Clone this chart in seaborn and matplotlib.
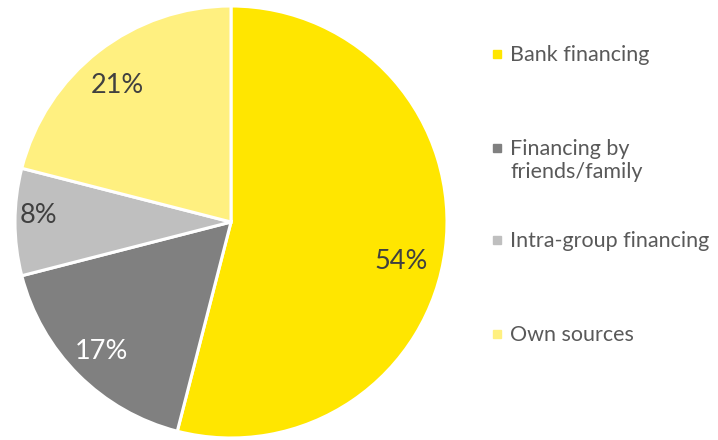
import matplotlib
matplotlib.use("Agg")
import numpy as np
import matplotlib.pyplot as plt
import seaborn as sns
from matplotlib.patches import Rectangle

# data
sources = ["Bank financing", "Financing by\nfriends/family", "Intra-group financing", "Own sources"]
shares = [54, 17, 8, 21]
colors = ["#FFE600", "#808080", "#BFBFBF", "#FFF080"]
pct_colors = ["#404040", "#FFFFFF", "#404040", "#404040"]

sns.set_theme(style="white")
plt.rcParams["font.family"] = ["Lato", "DejaVu Sans"]

fig = plt.figure(figsize=(7.18, 4.40), dpi=100)
ax = fig.add_axes([15 / 718, 2 / 440, 432 / 718, 432 / 440])

wedges, texts, autotexts = ax.pie(
    shares, colors=sns.color_palette(colors), startangle=90, counterclock=False,
    autopct="%1.0f%%", pctdistance=0.83, radius=1,
    wedgeprops=dict(edgecolor="white", linewidth=2.2),
)

# nudge the percent labels a bit like excel's "best fit" does
lab_r = [0.81, 0.85, 0.89, 0.82]
lab_shift = [-6, 0, -2, 2]
for w, t, c, r, s in zip(wedges, autotexts, pct_colors, lab_r, lab_shift):
    ang = np.deg2rad((w.theta1 + w.theta2) / 2 + s)
    t.set_position((r * np.cos(ang), r * np.sin(ang)))
    t.set_color(c)
    t.set_fontsize(19.5)
ax.set_xlim(-1, 1)
ax.set_ylim(-1, 1)
ax.set_aspect("equal")
ax.axis("off")

# legend on the right, drawn by hand so the square sits on the first line
legend_top = [45, 139, 231, 325]
for lab, col, top in zip(sources, colors, legend_top):
    fig.text(510 / 718, 1 - top / 440, lab, fontsize=15.5, color="#595959",
             va="top", ha="left", linespacing=1.2)
    fig.add_artist(Rectangle((493 / 718, 1 - (top + 13) / 440), 8 / 718, 8 / 440,
                             transform=fig.transFigure, color=col))

fig.savefig("out.png", dpi=100)
